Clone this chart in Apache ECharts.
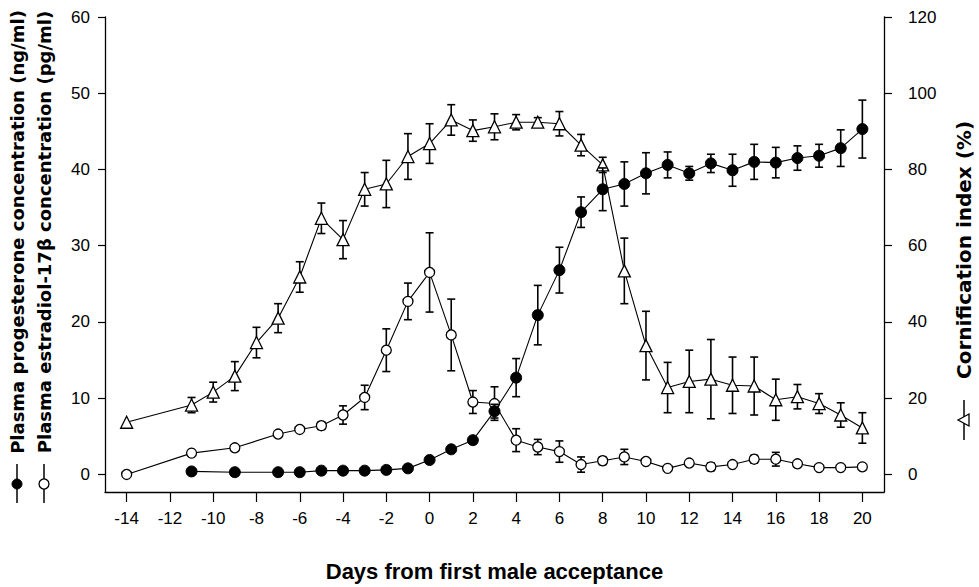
<!DOCTYPE html>
<html>
<head>
<meta charset="utf-8">
<script src="https://cdn.jsdelivr.net/npm/echarts@6/dist/echarts.min.js"></script>
<style>
html,body{margin:0;padding:0;background:#fff;}
#chart{width:979px;height:587px;}
</style>
</head>
<body>
<div id="chart"></div>
<script>
// ---- data ----
var xTicks = [-14,-12,-10,-8,-6,-4,-2,0,2,4,6,8,10,12,14,16,18,20];
var leftTicks = [0,10,20,30,40,50,60];
var rightTicks = [0,20,40,60,80,100,120];

var progDays = [-11,-9,-7,-6,-5,-4,-3,-2,-1,0,1,2,3,4,5,6,7,8,9,10,11,12,13,14,15,16,17,18,19,20];
var progVals = [0.4,0.3,0.3,0.3,0.5,0.5,0.5,0.6,0.8,1.9,3.3,4.5,8.3,12.7,20.9,26.8,34.4,37.4,38.1,39.5,40.6,39.5,40.8,39.9,41.0,40.9,41.5,41.8,42.8,45.3];
var progErr  = [0,0,0,0,0,0,0,0,0,0,0,0,0.9,2.5,3.9,3.0,2.0,2.8,2.9,2.7,1.7,0.9,1.2,2.1,2.3,2.0,1.6,1.5,2.4,3.8];

var e2Days = [-14,-11,-9,-7,-6,-5,-4,-3,-2,-1,0,1,2,3,4,5,6,7,8,9,10,11,12,13,14,15,16,17,18,19,20];
var e2Vals = [0,2.8,3.5,5.3,5.9,6.4,7.8,10.1,16.3,22.7,26.5,18.3,9.5,9.3,4.5,3.6,3.0,1.3,1.8,2.3,1.7,0.8,1.5,1.0,1.3,2.0,2.0,1.4,0.9,0.9,1.0];
var e2Err  = [0,0,0,0,0,0.5,1.2,1.6,2.8,2.4,5.2,4.7,1.5,2.2,1.5,1.0,1.4,1.0,0.5,1.0,0,0,0,0.5,0,0.5,0.9,0,0,0,0];

var ciDays = [-14,-11,-10,-9,-8,-7,-6,-5,-4,-3,-2,-1,0,1,2,3,4,5,6,7,8,9,10,11,12,13,14,15,16,17,18,19,20];
var ciVals = [13.7,18.2,21.6,25.8,34.6,41,51.8,67.2,61.6,74.8,76.2,83.4,86.8,93,90.2,91.2,92.4,92.4,92,86.4,81.2,53.4,33.8,22.8,24.4,25,23.4,23.2,19.6,20.4,18.6,15.6,12.2];
var ciErr  = [0,2,2.6,3.8,4,3.8,4,4,5,4.4,6.2,6,5.2,4,2.8,3.4,2,1.2,3.2,2.8,2,8.6,9,6.6,8.2,10.4,7.4,7.6,5.4,3.2,2.6,3.2,4];

function pts(d, v){ return d.map(function(x,i){ return [x, v[i]]; }); }
function errPts(d, v, e){ return d.map(function(x,i){ return [x, v[i], e[i]]; }); }

function errorRender(params, api){
  var x = api.value(0), y = api.value(1), e = api.value(2);
  if (!e) return null;
  var top = api.coord([x, y + e]);
  var bot = api.coord([x, y - e]);
  var hw = 4;
  var st = {stroke:'#000', lineWidth:1.6};
  return {type:'group', children:[
    {type:'line', shape:{x1:top[0], y1:top[1], x2:bot[0], y2:bot[1]}, style:st},
    {type:'line', shape:{x1:top[0]-hw, y1:top[1], x2:top[0]+hw, y2:top[1]}, style:st},
    {type:'line', shape:{x1:bot[0]-hw, y1:bot[1], x2:bot[0]+hw, y2:bot[1]}, style:st}
  ]};
}

var chart = echarts.init(document.getElementById('chart'), null, {renderer:'svg'});
var tickFont = {color:'#000', fontFamily:'Liberation Sans, Arial, sans-serif', fontSize:17};

var option = {
  animation:false,
  backgroundColor:'#fff',
  grid:{left:105, right:95, top:17, bottom:85, containLabel:false},
  xAxis:{
    type:'value', min:-15, max:21,
    axisLine:{onZero:false, lineStyle:{color:'#000', width:1.3}},
    axisTick:{customValues:xTicks, length:10, lineStyle:{color:'#000', width:1.2}},
    axisLabel:Object.assign({customValues:xTicks, margin:18, formatter:function(v){return String(v);}}, tickFont),
    splitLine:{show:false},
    name:'Days from first male acceptance', nameLocation:'middle', nameGap:68,
    nameTextStyle:{color:'#000', fontFamily:'Liberation Sans, Arial, sans-serif', fontSize:22, fontWeight:'bold'}
  },
  yAxis:[
    {type:'value', min:-2.3, max:60, position:'left',
     axisLine:{show:true, onZero:false, lineStyle:{color:'#000', width:1.3}},
     axisTick:{show:true, customValues:leftTicks, length:7, lineStyle:{color:'#000', width:1.2}},
     axisLabel:Object.assign({customValues:leftTicks, margin:15}, tickFont),
     splitLine:{show:false}},
    {type:'value', min:-4.6, max:120, position:'right',
     axisLine:{show:true, onZero:false, lineStyle:{color:'#000', width:1.3}},
     axisTick:{show:true, customValues:rightTicks, length:8, lineStyle:{color:'#000', width:1.2}},
     axisLabel:Object.assign({customValues:rightTicks, margin:24}, tickFont),
     splitLine:{show:false}}
  ],
  series:[
    {type:'custom', yAxisIndex:1, z:2, renderItem:errorRender, data:errPts(ciDays, ciVals, ciErr), silent:true},
    {type:'line', yAxisIndex:1, z:3, data:pts(ciDays, ciVals), symbol:'triangle', symbolSize:12,
     lineStyle:{color:'#000', width:1.1}, itemStyle:{color:'#fff', borderColor:'#000', borderWidth:1.3}},
    {type:'custom', yAxisIndex:0, z:4, renderItem:errorRender, data:errPts(e2Days, e2Vals, e2Err), silent:true},
    {type:'line', yAxisIndex:0, z:5, data:pts(e2Days, e2Vals), symbol:'circle', symbolSize:10,
     lineStyle:{color:'#000', width:1.1}, itemStyle:{color:'#fff', borderColor:'#000', borderWidth:1.3}},
    {type:'custom', yAxisIndex:0, z:6, renderItem:errorRender, data:errPts(progDays, progVals, progErr), silent:true},
    {type:'line', yAxisIndex:0, z:7, data:pts(progDays, progVals), symbol:'circle', symbolSize:11,
     lineStyle:{color:'#000', width:1.1}, itemStyle:{color:'#000', borderColor:'#000', borderWidth:1}}
  ],
  graphic:[
    {type:'text', x:17, y:232, rotation:Math.PI/2,
     style:{text:'Plasma progesterone concentration (ng/ml)', fill:'#000', font:'bold 18px "DejaVu Sans", sans-serif', align:'center', verticalAlign:'middle'}},
    {type:'text', x:44, y:232, rotation:Math.PI/2,
     style:{text:'Plasma estradiol-17β concentration (pg/ml)', fill:'#000', font:'bold 18px "DejaVu Sans", sans-serif', align:'center', verticalAlign:'middle'}},
    {type:'line', shape:{x1:17, y1:464, x2:17, y2:503}, style:{stroke:'#000', lineWidth:1.5}},
    {type:'circle', shape:{cx:17, cy:484, r:5}, style:{fill:'#000', stroke:'#000'}},
    {type:'line', shape:{x1:44, y1:464, x2:44, y2:503}, style:{stroke:'#000', lineWidth:1.5}},
    {type:'circle', shape:{cx:44, cy:484, r:5}, style:{fill:'#fff', stroke:'#000', lineWidth:1.3}},
    {type:'text', x:964, y:250, rotation:Math.PI/2,
     style:{text:'Cornification index (%)', fill:'#000', font:'bold 20px "DejaVu Sans", sans-serif', align:'center', verticalAlign:'middle'}},
    {type:'line', shape:{x1:964, y1:400, x2:964, y2:440}, style:{stroke:'#000', lineWidth:1.5}},
    {type:'polygon', shape:{points:[[958,420],[969,414],[969,426]]}, style:{fill:'#fff', stroke:'#000', lineWidth:1.3}}
  ]
};
chart.setOption(option);
</script>
</body>
</html>
